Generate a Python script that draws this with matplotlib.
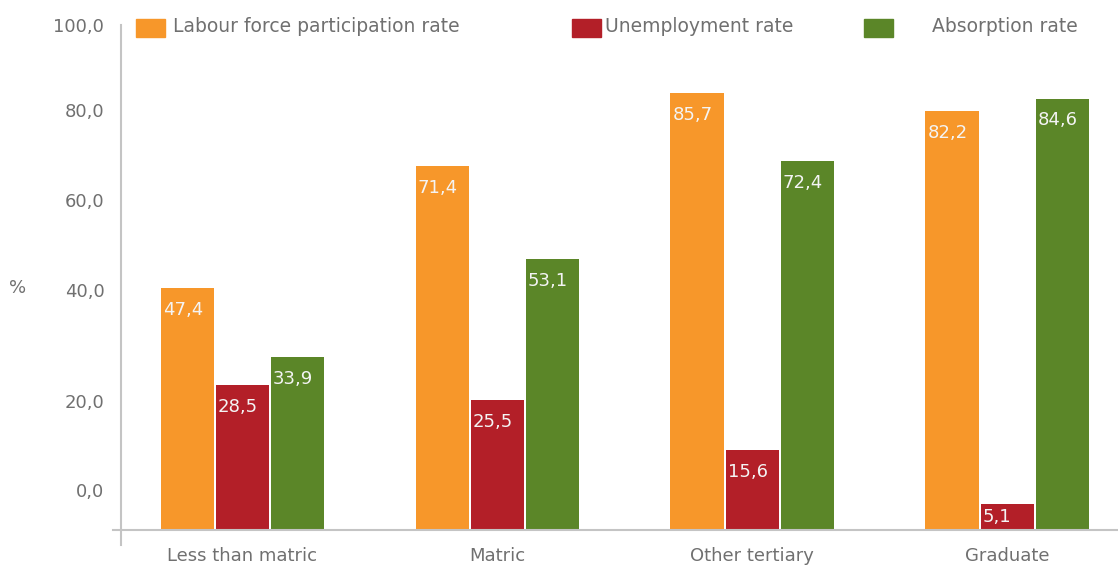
import matplotlib.pyplot as plt
import numpy as np

# education levels and the three labour-market rates (%)
categories = ['Less than matric', 'Matric', 'Other tertiary', 'Graduate']
participation = [47.4, 71.4, 85.7, 82.2]
unemployment = [28.5, 25.5, 15.6, 5.1]
absorption = [33.9, 53.1, 72.4, 84.6]

series_names = ['Labour force participation rate', 'Unemployment rate', 'Absorption rate']
colors = ['#F7972A', '#B31F28', '#5B8628']

# y tick labels as printed on the axis, and where they sit
ytick_pos = [7.8, 25.3, 47.1, 64.7, 82.4, 99.0]
ytick_labels = ['0,0', '20,0', '40,0', '60,0', '80,0', '100,0']

grey = '#707070'
axis_grey = '#c4c4c4'
plt.rcParams['font.family'] = ['DejaVu Sans']

fig = plt.figure(figsize=(11.18, 5.67), dpi=100)
ax = fig.add_axes([121 / 1118, 37 / 567, 997 / 1118, 510 / 567])

x = np.arange(len(categories))
width = 0.208
offsets = [-0.216, 0.0, 0.216]

for vals, off, col in zip([participation, unemployment, absorption], offsets, colors):
    ax.bar(x + off, vals, width, color=col, linewidth=0)
    for xi, v in zip(x, vals):
        # value label near the top of the bar; short bars keep it inside
        ax.text(xi + off - width / 2 + 0.008, max(v - 4.3, v / 2), f'{v:.1f}'.replace('.', ','),
                color='#f4f4f4', fontsize=13, ha='left', va='center')

ax.set_xlim(-0.475, 3.435)
ax.set_ylim(0, 100)

for s in ax.spines.values():
    s.set_visible(False)

# axis lines, extended a little past the corner
ax.plot([-0.507, 3.435], [0, 0], color=axis_grey, lw=1.5, clip_on=False)
ax.plot([-0.475, -0.475], [-3.0, 99.0], color=axis_grey, lw=1.5, clip_on=False)

ax.set_xticks(x)
ax.set_xticklabels(categories)
ax.set_yticks(ytick_pos)
ax.set_yticklabels(ytick_labels)
ax.tick_params(axis='both', length=0, labelsize=13, labelcolor=grey)
ax.tick_params(axis='x', pad=12)
ax.tick_params(axis='y', pad=12)

fig.text(18 / 1118, 1 - 288 / 567, '%', fontsize=13, color=grey, ha='center', va='center')

# legend swatches laid out across the top
legend_items = [(136, 173), (572, 605), (864, 932)]
for (sx, tx), name, col in zip(legend_items, series_names, colors):
    fig.patches.append(plt.Rectangle((sx / 1118, 1 - 37 / 567), 29 / 1118, 18 / 567,
                                     transform=fig.transFigure, color=col, figure=fig))
    fig.text(tx / 1118, 1 - 27 / 567, name, fontsize=13.5, color=grey, ha='left', va='center')

fig.savefig('out.png', dpi=100)
